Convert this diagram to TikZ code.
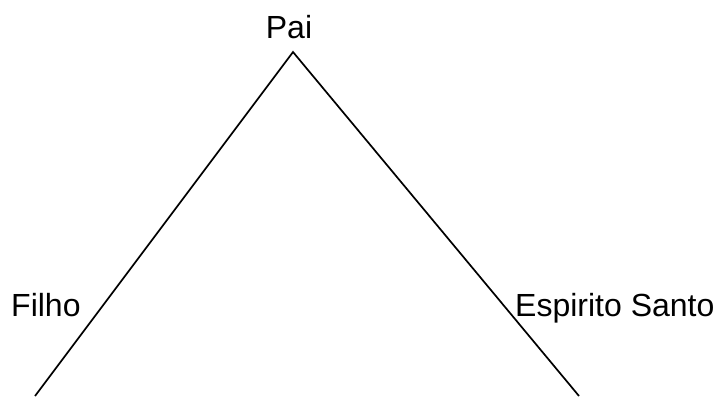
\documentclass[tikz,border=0pt]{standalone}
\usepackage{fontspec}
\setmainfont{Liberation Sans}
\begin{document}
\begin{tikzpicture}[x=1pt,y=-1pt,
  lbl/.style={font=\fontsize{32}{38}\selectfont, inner sep=0pt, text=black},
  edge/.style={draw=black, line width=1.7pt}]
\useasboundingbox (0,0) rectangle (717,396);
\coordinate (apex) at (293,52);
\coordinate (bl) at (35,396);
\coordinate (br) at (579,396);
\node[lbl, anchor=base] (pai) at (289,39) {Pai};
\node[lbl, anchor=base west] (filho) at (11,316) {Filho};
\node[lbl, anchor=base west] (es) at (515,316) {Espirito Santo};
\draw[edge] (bl) -- (apex) -- (br);
\end{tikzpicture}
\end{document}
